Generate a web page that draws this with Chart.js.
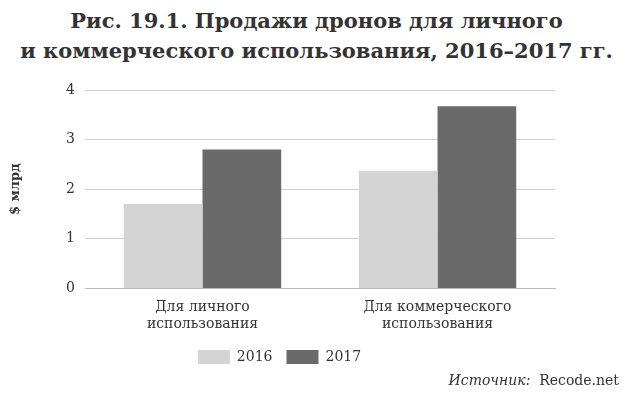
<!DOCTYPE html>
<html>
<head>
<meta charset="utf-8">
<script src="https://cdn.jsdelivr.net/npm/chart.js@4"></script>
<style>
  body { margin: 0; background: #fff; }
  #wrap { position: relative; width: 633px; height: 400px; }
  #title { position: absolute; left: 0; top: 6px; width: 633px; text-align: center; font-family: "DejaVu Serif", serif; font-weight: bold; font-size: 21px; line-height: 30px; color: #333; }
  #chart { position: absolute; left: 0; top: 68px; }
  #src { position: absolute; right: 14px; top: 372px; font-family: "DejaVu Serif", serif; font-size: 14px; color: #333; }
</style>
</head>
<body>
<div id="wrap">
  <div id="title">Рис. 19.1. Продажи дронов для личного<br>и коммерческого использования, 2016–2017 гг.</div>
  <canvas id="chart" width="633" height="306"></canvas>
  <div id="src"><i>Источник:</i>&nbsp; Recode.net</div>
</div>
<script>
var categories = [["Для личного", "использования"], ["Для коммерческого", "использования"]];
var sales2016 = [1.7, 2.37];
var sales2017 = [2.8, 3.67];

var serif = "'DejaVu Serif', 'Liberation Serif', serif";

new Chart(document.getElementById("chart"), {
    type: 'bar',
    data: {
        labels: categories,
        datasets: [
            { label: "2016", backgroundColor: "#d4d4d4", data: sales2016 },
            { label: "2017", backgroundColor: "#6a6a6a", data: sales2017 }
        ]
    },
    options: {
        responsive: false,
        animation: false,
        layout: { padding: { left: 4, right: 78, top: 22 } },
        datasets: { bar: { barPercentage: 1, categoryPercentage: 0.67 } },
        plugins: {
            legend: {
                position: 'bottom',
                labels: { font: { family: serif, size: 14 }, color: "#333", boxWidth: 32, boxHeight: 14, padding: 14 }
            }
        },
        scales: {
            x: {
                grid: { display: false },
                border: { color: "#bbb" },
                ticks: { font: { family: serif, size: 14 }, color: "#333" }
            },
            y: {
                min: 0, max: 4,
                afterFit: function(s) { s.width = 81; },
                ticks: { stepSize: 1, font: { family: serif, size: 14 }, color: "#333", padding: 10 },
                grid: { color: "#d0d0d0", drawTicks: false },
                border: { display: false },
                title: { display: true, text: "$ млрд", font: { family: serif, size: 13, weight: 'bold' }, color: "#333" }
            }
        }
    }
});
</script>
</body>
</html>
